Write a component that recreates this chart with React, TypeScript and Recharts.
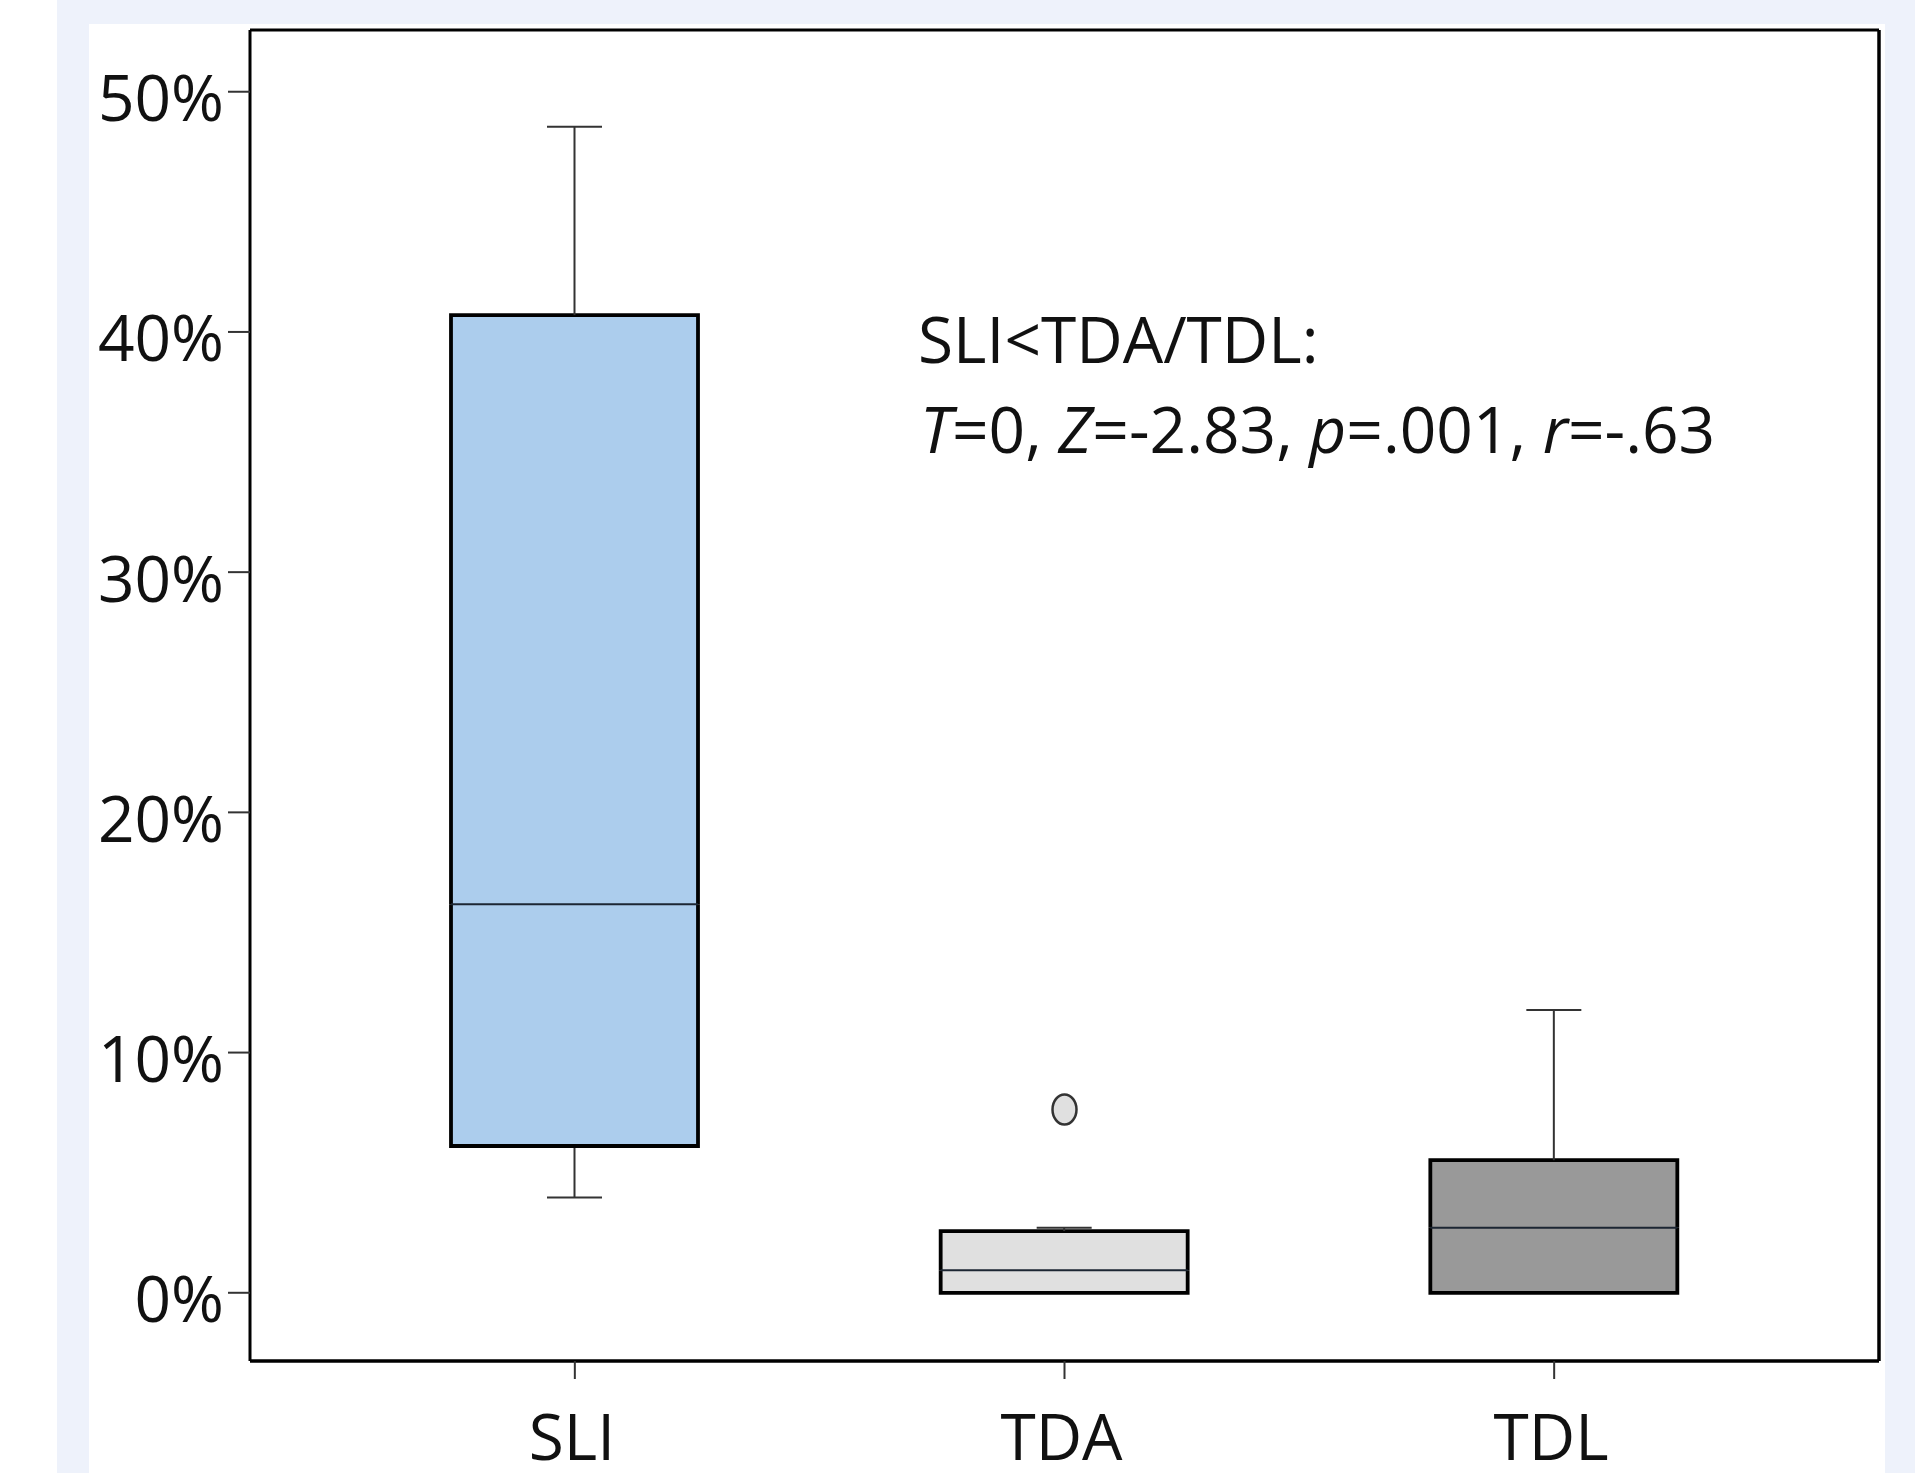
import React from "react";
import {
  Bar,
  Cell,
  ComposedChart,
  Customized,
  Scatter,
  XAxis,
  YAxis,
} from "recharts";

// values, in percent
const categories = ["SLI", "TDA", "TDL"];
const whiskerLow = [3.97, 0, 0];
const quartile1 = [6.11, 0, 0];
const medians = [16.17, 0.94, 2.71];
const quartile3 = [40.7, 2.57, 5.52];
const whiskerHigh = [48.54, 2.71, 11.77];
const outliers: (number | null)[] = [null, 7.63, null];
const yTicks = [0, 10, 20, 30, 40, 50];
const yDomain = [-2.84, 52.57];

const boxFills = ["#accded", "#e0e0e0", "#999999"];
const FONT = '"Open Sans", "DejaVu Sans", sans-serif';
const CAP = 55;
const BOX_STROKE = 3.8;

const data = categories.map((name, i) => ({
  name,
  base: whiskerLow[i],
  lowWhisker: quartile1[i] - whiskerLow[i],
  lowBox: medians[i] - quartile1[i],
  highBox: quartile3[i] - medians[i],
  highWhisker: whiskerHigh[i] - quartile3[i],
  outlier: outliers[i],
}));

const LowWhiskerShape = (p: any) => {
  const { x, y, width, height } = p;
  if (!height || height <= 0) return null;
  const cx = x + width / 2;
  return (
    <g stroke="#333" strokeWidth={2}>
      <line x1={cx} x2={cx} y1={y} y2={y + height} />
      <line x1={cx - CAP / 2} x2={cx + CAP / 2} y1={y + height} y2={y + height} />
    </g>
  );
};

const HighWhiskerShape = (p: any) => {
  const { x, y, width, height } = p;
  if (!height || height <= 0) return null;
  const cx = x + width / 2;
  return (
    <g stroke="#333" strokeWidth={2}>
      <line x1={cx} x2={cx} y1={y} y2={y + height} />
      <line x1={cx - CAP / 2} x2={cx + CAP / 2} y1={y} y2={y} />
    </g>
  );
};

const LowBoxShape = (p: any) => {
  const { x, y, width, height, index } = p;
  const h = Math.max(height || 0, 0);
  return (
    <g>
      <rect x={x} y={y} width={width} height={h} fill={boxFills[index]} />
      <path
        d={`M${x},${y} L${x},${y + h} L${x + width},${y + h} L${x + width},${y}`}
        fill="none"
        stroke="#000"
        strokeWidth={BOX_STROKE}
      />
    </g>
  );
};

const HighBoxShape = (p: any) => {
  const { x, y, width, height, index } = p;
  const h = Math.max(height || 0, 0);
  return (
    <g>
      <rect x={x} y={y} width={width} height={h} fill={boxFills[index]} />
      <path
        d={`M${x},${y + h} L${x},${y} L${x + width},${y} L${x + width},${y + h}`}
        fill="none"
        stroke="#000"
        strokeWidth={BOX_STROKE}
      />
      {/* median */}
      <line x1={x} x2={x + width} y1={y + h} y2={y + h} stroke="#1c2633" strokeWidth={2} />
    </g>
  );
};

const OutlierShape = (p: any) => {
  const { cx, cy, payload } = p;
  if (payload == null || payload.outlier == null) return null;
  return <ellipse cx={cx} cy={cy} rx={12} ry={15} fill="#e0e0e0" stroke="#333" strokeWidth={2.5} />;
};

const YTick = (p: any) => (
  <text x={p.x} y={p.y + 29.5} textAnchor="end" fontFamily={FONT} fontSize={64} fill="#111">
    {p.payload.value}%
  </text>
);

const XTick = (p: any) => (
  <text x={p.x - 3} y={p.y + 81} textAnchor="middle" fontFamily={FONT} fontSize={64} fill="#111">
    {p.payload.value}
  </text>
);

const Annotation = () => (
  <g fontFamily={FONT} fontSize={64} fill="#111">
    <text x={918} y={363}>SLI&lt;TDA/TDL:</text>
    <text x={920} y={453}>
      <tspan fontStyle="italic">T</tspan>=0, <tspan fontStyle="italic">Z</tspan>=-2.83,{" "}
      <tspan fontStyle="italic">p</tspan>=.001, <tspan fontStyle="italic">r</tspan>=-.63
    </text>
  </g>
);

export default function App() {
  return (
    <div style={{ position: "absolute", left: 0, top: 0, width: 1915, height: 1473, background: "#fff", overflow: "hidden" }}>
      <div style={{ position: "absolute", left: 57, top: 0, width: 1858, height: 1473, background: "#eef2fb" }} />
      <div style={{ position: "absolute", left: 89, top: 24, width: 1796, height: 1449, background: "#fff" }} />
      <div style={{ position: "absolute", left: 0, top: 0 }}>
        <ComposedChart
          width={1915}
          height={1473}
          data={data}
          margin={{ top: 29, right: 35, bottom: 0, left: 50 }}
        >
          <XAxis
            dataKey="name"
            type="category"
            padding={{ left: 80, right: 80 }}
            height={112}
            tickSize={18}
            tickMargin={0}
            axisLine={{ stroke: "#000", strokeWidth: 3.5 }}
            tickLine={{ stroke: "#333", strokeWidth: 2 }}
            tick={<XTick />}
          />
          {/* top edge of the frame */}
          <XAxis
            xAxisId="top"
            dataKey="name"
            type="category"
            orientation="top"
            height={1}
            tick={false}
            tickLine={false}
            axisLine={{ stroke: "#000", strokeWidth: 3 }}
          />
          <YAxis
            type="number"
            domain={yDomain}
            ticks={yTicks}
            allowDataOverflow
            width={200}
            tickSize={22}
            tickMargin={4}
            axisLine={{ stroke: "#000", strokeWidth: 3 }}
            tickLine={{ stroke: "#333", strokeWidth: 2 }}
            tick={<YTick />}
          />
          {/* right edge of the frame */}
          <YAxis
            yAxisId="right"
            orientation="right"
            type="number"
            domain={yDomain}
            allowDataOverflow
            width={1}
            tick={false}
            tickLine={false}
            axisLine={{ stroke: "#000", strokeWidth: 3.5 }}
          />
          <Bar dataKey="base" stackId="box" barSize={247} fill="none" shape={() => null} isAnimationActive={false} />
          <Bar dataKey="lowWhisker" stackId="box" barSize={247} shape={LowWhiskerShape} isAnimationActive={false} />
          <Bar dataKey="lowBox" stackId="box" barSize={247} shape={LowBoxShape} isAnimationActive={false}>
            {data.map((d, i) => (
              <Cell key={d.name} fill={boxFills[i]} />
            ))}
          </Bar>
          <Bar dataKey="highBox" stackId="box" barSize={247} shape={HighBoxShape} isAnimationActive={false}>
            {data.map((d, i) => (
              <Cell key={d.name} fill={boxFills[i]} />
            ))}
          </Bar>
          <Bar dataKey="highWhisker" stackId="box" barSize={247} shape={HighWhiskerShape} isAnimationActive={false} />
          <Scatter dataKey="outlier" shape={OutlierShape} isAnimationActive={false} />
          <Customized component={<Annotation />} />
        </ComposedChart>
      </div>
    </div>
  );
}
